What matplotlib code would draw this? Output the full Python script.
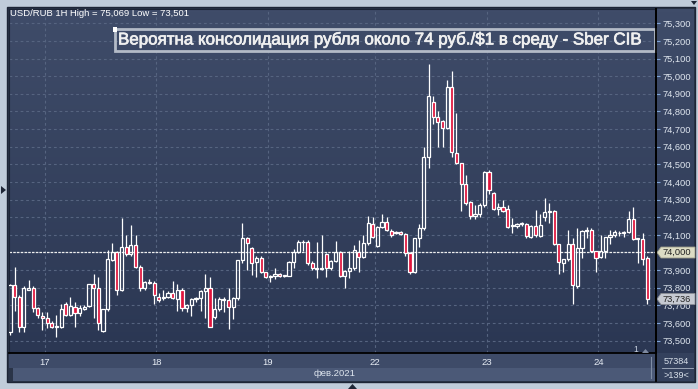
import numpy as np
import matplotlib.pyplot as plt
import matplotlib.patheffects as pe
from matplotlib.colors import LinearSegmentedColormap
from matplotlib.patches import Rectangle, Polygon
from matplotlib.lines import Line2D
from matplotlib.transforms import Affine2D

plt.rcParams['font.family'] = ['Liberation Sans', 'DejaVu Sans']

# USD/RUB 1H candles, 16-24 Feb 2021
opens = [73.549, 73.816, 73.748, 73.577, 73.790, 73.800, 73.685, 73.640, 73.630, 73.600,
         73.578, 73.578, 73.710, 73.645, 73.690, 73.655, 73.680, 73.697, 73.820, 73.800,
         73.555, 73.680, 73.960, 74.000, 73.790, 74.030, 73.990, 74.040, 73.920, 73.800,
         73.825, 73.827, 73.750, 73.740, 73.750, 73.770, 73.735, 73.787, 73.685, 73.700,
         73.735, 73.740, 73.780, 73.800, 73.635, 73.680, 73.730, 73.730, 73.690, 73.740,
         73.960, 74.080, 74.025, 73.947, 73.970, 73.890, 73.860, 73.865, 73.880, 73.866,
         73.867, 73.946, 74.000, 74.058, 74.060, 73.940, 73.905, 73.905, 73.990, 73.910,
         73.950, 74.000, 73.866, 73.895, 73.910, 74.000, 73.975, 74.054, 74.160, 74.037,
         74.145, 74.173, 74.122, 74.110, 74.116, 74.105, 73.997, 73.890, 74.080, 74.140,
         74.540, 74.853, 74.770, 74.745, 74.706, 74.940, 74.564, 74.507, 74.390, 74.286,
         74.207, 74.220, 74.270, 74.456, 74.340, 74.245, 74.258, 74.245, 74.150, 74.150,
         74.160, 74.160, 74.088, 74.150, 74.094, 74.200, 74.235, 74.235, 74.048, 73.940,
         73.963, 74.048, 73.810, 74.025, 74.120, 74.126, 74.008, 73.975, 74.008, 74.088,
         74.100, 74.110, 74.110, 74.116, 74.190, 74.080, 74.077, 73.970]
highs = [73.820, 73.920, 73.760, 73.810, 73.844, 73.810, 73.690, 73.660, 73.660, 73.610,
         73.645, 73.710, 73.720, 73.750, 73.720, 73.700, 73.700, 73.820, 73.880, 73.860,
         73.680, 74.014, 74.054, 74.010, 74.195, 74.100, 74.156, 74.100, 73.930, 73.840,
         73.850, 73.840, 73.770, 73.790, 73.780, 73.840, 73.820, 73.800, 73.710, 73.740,
         73.745, 73.790, 73.880, 73.860, 73.740, 73.745, 73.745, 73.800, 73.750, 73.960,
         74.170, 74.090, 74.030, 73.980, 73.980, 73.890, 73.870, 73.910, 73.885, 73.875,
         73.950, 74.020, 74.070, 74.070, 74.070, 73.950, 74.060, 74.100, 73.995, 73.955,
         74.065, 74.010, 73.900, 74.010, 74.043, 74.070, 74.100, 74.207, 74.200, 74.150,
         74.218, 74.200, 74.135, 74.120, 74.120, 74.110, 74.000, 74.080, 74.160, 74.598,
         75.069, 74.890, 74.800, 74.750, 74.980, 75.030, 74.790, 74.510, 74.440, 74.290,
         74.270, 74.280, 74.460, 74.470, 74.345, 74.280, 74.300, 74.270, 74.195, 74.170,
         74.175, 74.165, 74.155, 74.240, 74.220, 74.310, 74.280, 74.240, 74.050, 73.965,
         74.125, 74.080, 74.140, 74.130, 74.145, 74.140, 74.010, 74.100, 74.090, 74.130,
         74.130, 74.120, 74.120, 74.235, 74.260, 74.085, 74.110, 73.980]
lows = [73.530, 73.670, 73.549, 73.549, 73.785, 73.660, 73.630, 73.560, 73.570, 73.570,
        73.520, 73.570, 73.640, 73.640, 73.580, 73.640, 73.675, 73.690, 73.630, 73.560,
        73.550, 73.670, 73.950, 73.760, 73.780, 73.980, 73.980, 73.910, 73.780, 73.790,
        73.820, 73.710, 73.720, 73.730, 73.740, 73.735, 73.670, 73.670, 73.660, 73.640,
        73.720, 73.670, 73.630, 73.575, 73.620, 73.670, 73.660, 73.565, 73.620, 73.730,
        73.940, 73.900, 73.870, 73.860, 73.885, 73.855, 73.830, 73.850, 73.860, 73.860,
        73.865, 73.910, 73.995, 74.010, 73.930, 73.900, 73.855, 73.900, 73.860, 73.900,
        73.945, 73.860, 73.800, 73.855, 73.900, 73.890, 73.970, 74.040, 74.080, 74.030,
        74.140, 74.120, 74.090, 74.105, 74.100, 73.980, 73.880, 73.885, 74.030, 74.130,
        74.480, 74.730, 74.600, 74.597, 74.700, 74.540, 74.500, 74.235, 74.270, 74.190,
        74.190, 74.200, 74.260, 74.330, 74.240, 74.210, 74.230, 74.140, 74.110, 74.140,
        74.150, 74.080, 74.085, 74.090, 74.090, 74.180, 74.170, 74.045, 73.878, 73.890,
        73.950, 73.710, 73.800, 73.970, 74.080, 74.000, 73.890, 73.970, 73.970, 74.050,
        74.090, 74.095, 74.090, 74.110, 74.070, 73.940, 73.930, 73.710]
closes = [73.816, 73.748, 73.577, 73.800, 73.800, 73.685, 73.645, 73.630, 73.600, 73.577,
          73.583, 73.680, 73.645, 73.697, 73.655, 73.685, 73.690, 73.820, 73.800, 73.600,
          73.680, 73.963, 74.000, 73.790, 74.030, 73.990, 74.040, 73.920, 73.800, 73.830,
          73.830, 73.760, 73.730, 73.745, 73.770, 73.740, 73.787, 73.685, 73.700, 73.735,
          73.740, 73.780, 73.800, 73.580, 73.680, 73.735, 73.735, 73.690, 73.740, 73.957,
          74.080, 74.055, 73.940, 73.970, 73.890, 73.860, 73.865, 73.880, 73.865, 73.870,
          73.946, 74.003, 74.060, 74.060, 73.940, 73.910, 73.910, 73.910, 73.910, 73.950,
          74.000, 73.866, 73.895, 73.910, 74.014, 73.975, 74.054, 74.167, 74.088, 74.145,
          74.173, 74.128, 74.100, 74.114, 74.105, 73.997, 73.890, 74.080, 74.140, 74.540,
          74.887, 74.770, 74.740, 74.706, 74.940, 74.570, 74.507, 74.390, 74.280, 74.207,
          74.220, 74.270, 74.456, 74.355, 74.245, 74.258, 74.235, 74.145, 74.155, 74.160,
          74.165, 74.094, 74.150, 74.100, 74.155, 74.230, 74.230, 74.048, 73.946, 73.963,
          74.048, 73.816, 74.025, 74.120, 74.125, 74.008, 73.970, 74.008, 74.088, 74.100,
          74.116, 74.113, 74.116, 74.190, 74.077, 74.077, 73.963, 73.736]

day_start = [8, 32, 56, 79, 103, 127]
day_labels = ['17', '18', '19', '22', '23', '24']
level_price = 74.000
title = 'Вероятна консолидация рубля около 74 руб./$1 в среду - Sber CIB'

W, H = 698, 389
fig = plt.figure(figsize=(W / 100, H / 100), dpi=100, facecolor='#c0ccda')
pix = Affine2D().scale(1 / W, -1 / H).translate(0, 1) + fig.transFigure


def box(x0, y0, x1, y1):
    return [x0 / W, 1 - y1 / H, (x1 - x0) / W, (y1 - y0) / H]


grad = LinearSegmentedColormap.from_list('bg', ['#3f4c69', '#2b3753'])

# outer panel and bottom / right strips
fig.add_artist(Rectangle((7, 7), 688, 375, transform=pix, fc='#2a3448', ec='#1d2536', lw=1, zorder=-5))
fig.add_artist(Rectangle((9, 353), 647, 15, transform=pix, fc='#3e4b68', ec='none', zorder=-4))
fig.add_artist(Rectangle((13, 368), 643, 13, transform=pix, fc='#4b5977', ec='none', zorder=-4))
fig.add_artist(Rectangle((656, 353), 38, 28, transform=pix, fc='#34415d', ec='none', zorder=-4))

rp = fig.add_axes(box(656, 9, 694, 353))
rp.imshow(np.linspace(0, 1, 100).reshape(-1, 1), cmap=grad, aspect='auto', extent=[0, 1, 0, 1])
rp.set_axis_off()
rp.set_zorder(0)

ax = fig.add_axes(box(9, 9, 656, 353))
ax.set_zorder(1)
ax.set_xlim(-0.2, 138.9)
ax.set_ylim(73.43, 75.381)
ax.imshow(np.linspace(0, 1, 100).reshape(-1, 1), cmap=grad, aspect='auto',
          extent=[-0.2, 138.9, 73.43, 75.381], zorder=0)

# grid
ax.set_yticks(np.round(np.arange(73.5, 75.35, 0.1), 1))
ax.set_xticks([d - 0.5 for d in day_start])
ax.set_xticklabels(day_labels)
ax.grid(True, color='#566480', lw=0.8, ls=(0, (2.5, 2.5)), zorder=1)
ax.yaxis.tick_right()
ax.tick_params(axis='y', colors='#7ea4d6', length=3, width=0.8, pad=1.5,
               labelcolor='#dfe6ef', labelsize=6.7)
ax.tick_params(axis='x', length=0, pad=3.5, labelcolor='#e6ecf4', labelsize=6.8)
ax.yaxis.set_major_formatter(plt.FuncFormatter(lambda v, p: f'{v:.3f}'.replace('.', ',')))
for s in ['left', 'top']:
    ax.spines[s].set_color('#1d2536')
for s in ['right', 'bottom']:
    ax.spines[s].set_color('black')
    ax.spines[s].set_linewidth(1.3)

# level line at 74,000
ax.axhline(level_price, color='#eeeeee', lw=0.9, ls=(0, (2, 1)), zorder=2)

# candles
x = np.arange(len(opens))
o = np.array(opens)
c = np.array(closes)
hi = np.array(highs)
lo = np.array(lows)
top = np.maximum(o, c)
bot = np.minimum(o, c)
ax.vlines(x, top, hi, color='white', lw=0.9, zorder=3)
ax.vlines(x, lo, bot, color='white', lw=0.9, zorder=3)
face = ['#e0143c' if cc < oo else 'none' for oo, cc in zip(o, c)]
ax.bar(x, top - bot, bottom=bot, width=0.68, color=face, edgecolor='white', lw=0.9, zorder=4)

# header text and title box
fig.text(10 / W, 1 - 14 / H, 'USD/RUB 1H High = 75,069 Low = 73,501', color='white',
         fontsize=6.8, ha='left', va='center', zorder=10)
fig.add_artist(Rectangle((115, 29), 540, 21.5, transform=pix, fill=False, ec='#b3bbc7', lw=2, zorder=10))
fig.add_artist(Rectangle((112.5, 27), 4.5, 4.5, transform=pix, fc='white', ec='none', zorder=11))
fig.text(118 / W, 1 - 39.5 / H, title, color='#f0f0f0', fontsize=12.2, ha='left', va='center', zorder=11,
         path_effects=[pe.withStroke(linewidth=0.5, foreground='#f0f0f0')])

# price flags on right axis
fig.add_artist(Polygon([(657, 252.5), (661, 247), (695, 247), (695, 258), (661, 258)],
                       transform=pix, fc='#dcdcc4', ec='#9a9a88', lw=0.6, zorder=10))
fig.text(663 / W, 1 - 252.5 / H, '74,000', color='#222222', fontsize=6.7, ha='left', va='center', zorder=11)
fig.add_artist(Polygon([(657, 299), (661, 293.5), (695, 293.5), (695, 304.5), (661, 304.5)],
                       transform=pix, fc='#c6cad2', ec='#8a8e96', lw=0.6, zorder=10))
fig.text(663 / W, 1 - 299 / H, '73,736', color='#222222', fontsize=6.7, ha='left', va='center', zorder=11)

# bottom and right-bottom bits
fig.text(335 / W, 1 - 374 / H, 'фев.2021', color='#dfe6ef', fontsize=6.8, ha='center', va='center', zorder=10)
fig.text(676 / W, 1 - 362 / H, '57384', color='#d8e0ea', fontsize=6.6, ha='center', va='center', zorder=10)
fig.text(676 / W, 1 - 375 / H, '>139<', color='#d8e0ea', fontsize=6.6, ha='center', va='center', zorder=10)
fig.add_artist(Line2D([662, 693], [368.5, 368.5], transform=pix, color='#aab4c4', lw=0.6, zorder=10))
fig.add_artist(Line2D([651, 651], [357, 378], transform=pix, color='#7e8ca4', lw=0.8, zorder=10))
fig.add_artist(Line2D([655.5, 655.5], [9, 381], transform=pix, color='black', lw=1.3, zorder=12))
fig.text(636 / W, 1 - 349 / H, '1', color='#c8d2e0', fontsize=6.2, ha='center', va='center', zorder=10)
fig.add_artist(Polygon([(642, 353), (645.5, 349), (649, 353)], transform=pix, fc='#7e8aa0', ec='none', zorder=10))

# little markers on the outer frame
fig.add_artist(Polygon([(1, 186), (6, 190), (1, 194)], transform=pix, fc='#1e2636', ec='none', zorder=10))
fig.add_artist(Polygon([(348, 389), (352.5, 384), (357, 389)], transform=pix, fc='#1e2636', ec='none', zorder=10))
fig.add_artist(Polygon([(691, 1), (697, 1), (694, 5)], transform=pix, fc='#1e2636', ec='none', zorder=10))

fig.savefig('out.png', dpi=100, facecolor=fig.get_facecolor())
